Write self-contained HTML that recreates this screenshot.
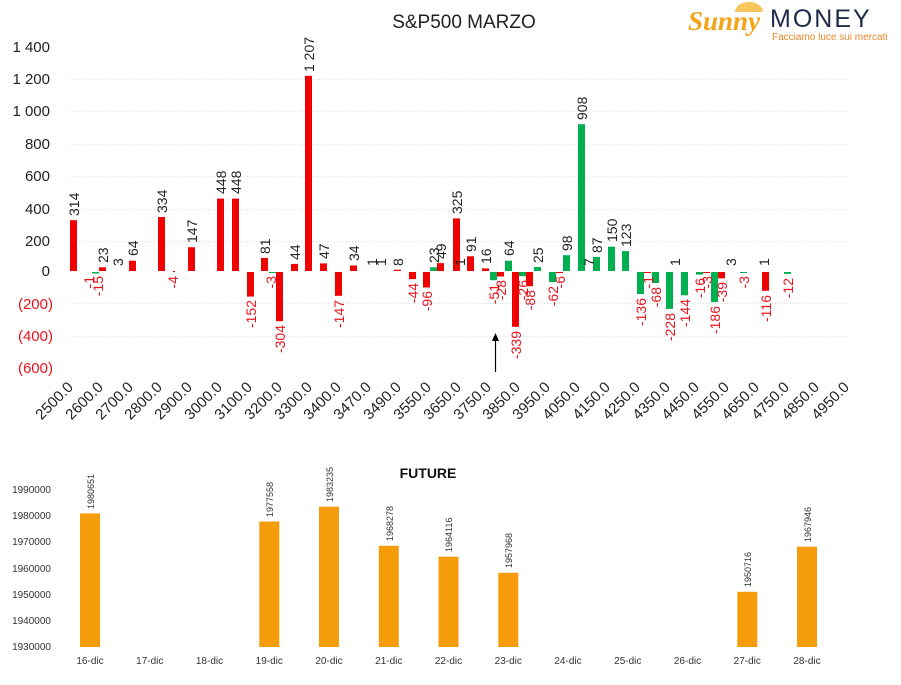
<!DOCTYPE html>
<html><head><meta charset="utf-8"><style>
html,body{margin:0;padding:0;background:#fff;}
svg{display:block;font-family:"Liberation Sans","DejaVu Sans",sans-serif;}
</style></head><body>
<svg width="901" height="685" viewBox="0 0 901 685" xmlns="http://www.w3.org/2000/svg">
<rect width="901" height="685" fill="#fff"/>
<!-- logo -->
<text x="688" y="30" font-size="27" font-style="italic" font-weight="bold" fill="#f2a516" font-family="Liberation Serif,serif">Sunny</text>
<path d="M735 12 a14 10 0 0 1 28 0 z" fill="#f7b733" opacity="0.8"/>
<text x="770" y="27" font-size="25" fill="#1d2b4a" letter-spacing="2">MONEY</text>
<text x="772" y="40" font-size="10" fill="#e8872a">Facciamo luce sui mercati</text>
<!-- title -->
<text x="464" y="28" font-size="19" text-anchor="middle" fill="#222">S&amp;P500 MARZO</text>
<!-- gridlines -->
<g stroke="#ddd" stroke-dasharray="1,2" stroke-width="1">
<line x1="70" y1="79.5" x2="850" y2="79.5"/><line x1="70" y1="111.5" x2="850" y2="111.5"/>
<line x1="70" y1="144.5" x2="850" y2="144.5"/><line x1="70" y1="176.5" x2="850" y2="176.5"/>
<line x1="70" y1="209.5" x2="850" y2="209.5"/><line x1="70" y1="241.5" x2="850" y2="241.5"/>
<line x1="70" y1="303.5" x2="850" y2="303.5"/><line x1="70" y1="336.5" x2="850" y2="336.5"/>
</g>
<!-- y labels -->
<g font-size="15" text-anchor="end" fill="#222">
<text x="50" y="52">1 400</text><text x="50" y="84">1 200</text><text x="50" y="116">1 000</text>
<text x="50" y="149">800</text><text x="50" y="181">600</text><text x="50" y="214">400</text>
<text x="50" y="246">200</text><text x="50" y="276">0</text>
<text x="53" y="309" fill="#e8141c">(200)</text><text x="53" y="341" fill="#e8141c">(400)</text><text x="53" y="373" fill="#e8141c">(600)</text>
</g>
<!-- bars -->
<g fill="#f00000">
<rect x="70" y="220.2" width="7" height="50.8"/><rect x="99" y="267.3" width="7" height="3.7"/>
<rect x="129" y="260.7" width="7" height="10.3"/><rect x="158" y="217" width="7" height="54"/>
<rect x="173" y="271" width="2" height="1"/><rect x="188" y="247.2" width="7" height="23.8"/>
<rect x="217" y="198.6" width="7" height="72.4"/><rect x="232" y="198.6" width="7" height="72.4"/>
<rect x="247" y="272" width="7" height="24.6"/><rect x="261" y="257.9" width="7" height="13.1"/>
<rect x="276" y="272" width="7" height="49.2"/><rect x="291" y="263.9" width="7" height="7.1"/>
<rect x="305" y="75.8" width="7" height="195.2"/><rect x="320" y="263.4" width="7" height="7.6"/>
<rect x="335" y="272" width="7" height="23.8"/><rect x="350" y="265.5" width="7" height="5.5"/>
<rect x="394" y="269.7" width="7" height="1.3"/><rect x="409" y="272" width="7" height="7.1"/>
<rect x="423" y="272" width="7" height="15.5"/><rect x="437" y="263.1" width="7" height="7.9"/>
<rect x="453" y="218.4" width="7" height="52.6"/><rect x="467" y="256.3" width="7" height="14.7"/>
<rect x="482" y="268.4" width="7" height="2.6"/><rect x="497" y="272" width="7" height="4.5"/>
<rect x="512" y="272" width="7" height="54.8"/><rect x="526" y="272" width="7" height="14.2"/>
<rect x="556" y="272" width="7" height="1"/><rect x="644" y="272" width="7" height="1"/>
<rect x="703" y="272" width="7" height="1"/><rect x="718" y="272" width="7" height="6.3"/>
<rect x="762" y="272" width="7" height="18.8"/>
</g>
<g fill="#00b050">
<rect x="92" y="272" width="7" height="1.5"/><rect x="269" y="272" width="7" height="1"/>
<rect x="430" y="267.3" width="7" height="3.7"/>
<rect x="490" y="272" width="7" height="8.2"/><rect x="505" y="260.7" width="7" height="10.3"/>
<rect x="519" y="272" width="7" height="4.2"/><rect x="534" y="267" width="7" height="4"/>
<rect x="549" y="272" width="7" height="10"/><rect x="563" y="255.2" width="7" height="15.8"/>
<rect x="578" y="124.2" width="7" height="146.8"/><rect x="593" y="256.9" width="7" height="14.1"/>
<rect x="608" y="246.7" width="7" height="24.3"/><rect x="622" y="251.1" width="7" height="19.9"/>
<rect x="637" y="272" width="7" height="22"/><rect x="652" y="272" width="7" height="11"/>
<rect x="666" y="272" width="7" height="36.9"/><rect x="681" y="272" width="7" height="23.3"/>
<rect x="696" y="272" width="7" height="2.6"/><rect x="711" y="272" width="7" height="30.1"/>
<rect x="740" y="272" width="7" height="1"/><rect x="784" y="272" width="7" height="1.9"/>
</g>
<!-- positive labels -->
<g font-size="14" fill="#222">
<text transform="translate(79,216) rotate(-90)">314</text>
<text transform="translate(108,263) rotate(-90)">23</text>
<text transform="translate(123,266) rotate(-90)">3</text>
<text transform="translate(138,256) rotate(-90)">64</text>
<text transform="translate(167,213) rotate(-90)">334</text>
<text transform="translate(197,243) rotate(-90)">147</text>
<text transform="translate(226,194) rotate(-90)">448</text>
<text transform="translate(241,194) rotate(-90)">448</text>
<text transform="translate(270,254) rotate(-90)">81</text>
<text transform="translate(300,260) rotate(-90)">44</text>
<text transform="translate(314,72) rotate(-90)">1 207</text>
<text transform="translate(329,259) rotate(-90)">47</text>
<text transform="translate(359,261) rotate(-90)">34</text>
<text transform="translate(377,266) rotate(-90)">1</text>
<text transform="translate(386,266) rotate(-90)">1</text>
<text transform="translate(403,266) rotate(-90)">8</text>
<text transform="translate(439,263) rotate(-90)">23</text>
<text transform="translate(446,259) rotate(-90)">49</text>
<text transform="translate(462,214) rotate(-90)">325</text>
<text transform="translate(465,266) rotate(-90)">1</text>
<text transform="translate(476,252) rotate(-90)">91</text>
<text transform="translate(491,264) rotate(-90)">16</text>
<text transform="translate(514,256) rotate(-90)">64</text>
<text transform="translate(543,263) rotate(-90)">25</text>
<text transform="translate(572,251) rotate(-90)">98</text>
<text transform="translate(587,120) rotate(-90)">908</text>
<text transform="translate(594,266) rotate(-90)">7</text>
<text transform="translate(602,253) rotate(-90)">87</text>
<text transform="translate(617,242) rotate(-90)">150</text>
<text transform="translate(631,247) rotate(-90)">123</text>
<text transform="translate(680,266) rotate(-90)">1</text>
<text transform="translate(736,266) rotate(-90)">3</text>
<text transform="translate(769,266) rotate(-90)">1</text>
</g>
<!-- negative labels -->
<g font-size="14" fill="#e8141c" text-anchor="end">
<text transform="translate(94,276) rotate(-90)">-1</text>
<text transform="translate(103,276) rotate(-90)">-15</text>
<text transform="translate(178,276) rotate(-90)">-4</text>
<text transform="translate(256,300) rotate(-90)">-152</text>
<text transform="translate(276,276) rotate(-90)">-3</text>
<text transform="translate(285,325) rotate(-90)">-304</text>
<text transform="translate(344,300) rotate(-90)">-147</text>
<text transform="translate(418,283) rotate(-90)">-44</text>
<text transform="translate(432,291) rotate(-90)">-96</text>
<text transform="translate(499,284) rotate(-90)">-51</text>
<text transform="translate(506,280) rotate(-90)">-28</text>
<text transform="translate(521,331) rotate(-90)">-339</text>
<text transform="translate(528,280) rotate(-90)">-26</text>
<text transform="translate(535,290) rotate(-90)">-88</text>
<text transform="translate(558,286) rotate(-90)">-62</text>
<text transform="translate(565,276) rotate(-90)">-6</text>
<text transform="translate(646,298) rotate(-90)">-136</text>
<text transform="translate(653,276) rotate(-90)">-1</text>
<text transform="translate(661,287) rotate(-90)">-68</text>
<text transform="translate(675,313) rotate(-90)">-228</text>
<text transform="translate(690,299) rotate(-90)">-144</text>
<text transform="translate(705,278) rotate(-90)">-16</text>
<text transform="translate(712,276) rotate(-90)">-3</text>
<text transform="translate(720,306) rotate(-90)">-186</text>
<text transform="translate(727,282) rotate(-90)">-39</text>
<text transform="translate(749,276) rotate(-90)">-3</text>
<text transform="translate(771,295) rotate(-90)">-116</text>
<text transform="translate(793,278) rotate(-90)">-12</text>
</g>
<!-- arrow -->
<line x1="495.5" y1="372" x2="495.5" y2="338" stroke="#000" stroke-width="1.2"/>
<path d="M492 341 L495.5 333 L499 341 Z" fill="#000"/>
<!-- x labels -->
<g font-size="15" fill="#222" text-anchor="end">
<text transform="translate(74,388) rotate(-45)">2500.0</text>
<text transform="translate(104,388) rotate(-45)">2600.0</text>
<text transform="translate(134,388) rotate(-45)">2700.0</text>
<text transform="translate(163,388) rotate(-45)">2800.0</text>
<text transform="translate(193,388) rotate(-45)">2900.0</text>
<text transform="translate(223,388) rotate(-45)">3000.0</text>
<text transform="translate(253,388) rotate(-45)">3100.0</text>
<text transform="translate(283,388) rotate(-45)">3200.0</text>
<text transform="translate(313,388) rotate(-45)">3300.0</text>
<text transform="translate(342,388) rotate(-45)">3400.0</text>
<text transform="translate(372,388) rotate(-45)">3470.0</text>
<text transform="translate(402,388) rotate(-45)">3490.0</text>
<text transform="translate(432,388) rotate(-45)">3550.0</text>
<text transform="translate(462,388) rotate(-45)">3650.0</text>
<text transform="translate(492,388) rotate(-45)">3750.0</text>
<text transform="translate(521,388) rotate(-45)">3850.0</text>
<text transform="translate(551,388) rotate(-45)">3950.0</text>
<text transform="translate(581,388) rotate(-45)">4050.0</text>
<text transform="translate(611,388) rotate(-45)">4150.0</text>
<text transform="translate(641,388) rotate(-45)">4250.0</text>
<text transform="translate(671,388) rotate(-45)">4350.0</text>
<text transform="translate(700,388) rotate(-45)">4450.0</text>
<text transform="translate(730,388) rotate(-45)">4550.0</text>
<text transform="translate(760,388) rotate(-45)">4650.0</text>
<text transform="translate(790,388) rotate(-45)">4750.0</text>
<text transform="translate(820,388) rotate(-45)">4850.0</text>
<text transform="translate(850,388) rotate(-45)">4950.0</text>
</g>
<!-- FUTURE chart -->
<text x="428" y="478" font-size="14" font-weight="bold" text-anchor="middle" fill="#111">FUTURE</text>
<g font-size="10" fill="#333" text-anchor="end">
<text x="51" y="493">1990000</text><text x="51" y="519">1980000</text><text x="51" y="545">1970000</text>
<text x="51" y="572">1960000</text><text x="51" y="598">1950000</text><text x="51" y="624">1940000</text>
<text x="51" y="650">1930000</text>
</g>
<g fill="#f59c0a">
<rect x="80" y="513.4" width="20" height="133.6"/>
<rect x="259.3" y="521.5" width="20" height="125.5"/>
<rect x="319" y="506.7" width="20" height="140.3"/>
<rect x="378.8" y="545.8" width="20" height="101.2"/>
<rect x="438.5" y="556.7" width="20" height="90.3"/>
<rect x="498.3" y="572.8" width="20" height="74.2"/>
<rect x="737.3" y="591.8" width="20" height="55.2"/>
<rect x="797" y="546.7" width="20" height="100.3"/>
</g>
<g font-size="9" fill="#333">
<text transform="translate(94,509) rotate(-90)">1980651</text>
<text transform="translate(273,517) rotate(-90)">1977558</text>
<text transform="translate(333,502) rotate(-90)">1983235</text>
<text transform="translate(393,541) rotate(-90)">1968278</text>
<text transform="translate(452,552) rotate(-90)">1964116</text>
<text transform="translate(512,568) rotate(-90)">1957968</text>
<text transform="translate(751,587) rotate(-90)">1950716</text>
<text transform="translate(811,542) rotate(-90)">1967946</text>
</g>
<g font-size="10" fill="#333" text-anchor="middle">
<text x="90" y="664">16-dic</text><text x="149.8" y="664">17-dic</text><text x="209.5" y="664">18-dic</text>
<text x="269.3" y="664">19-dic</text><text x="329" y="664">20-dic</text><text x="388.8" y="664">21-dic</text>
<text x="448.5" y="664">22-dic</text><text x="508.3" y="664">23-dic</text><text x="568" y="664">24-dic</text>
<text x="627.8" y="664">25-dic</text><text x="687.5" y="664">26-dic</text><text x="747.3" y="664">27-dic</text>
<text x="807" y="664">28-dic</text>
</g>
</svg>
</body></html>
